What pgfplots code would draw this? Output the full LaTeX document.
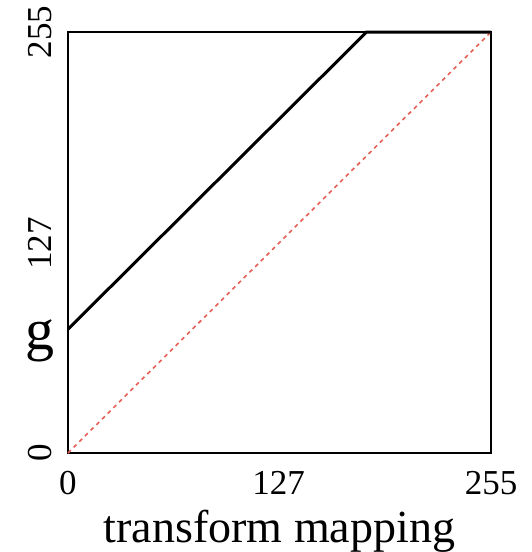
\documentclass[border=0pt]{standalone}
\usepackage{pgfplots}
\pgfplotsset{compat=1.18}
\usepackage{fontspec}
\setmainfont{Liberation Serif}
\definecolor{redline}{RGB}{228,96,84}
\begin{document}
\begin{tikzpicture}
\begin{axis}[
  scale only axis,
  width=423pt, height=421pt,
  xmin=0, xmax=255, ymin=0, ymax=255,
  xtick={0,127,255}, ytick={0,127,255},
  major tick length=0pt,
  axis line style={line width=1.3pt},
  /pgf/number format/assume math mode=true,
  ticklabel style={font=\fontsize{35}{40}\selectfont},
  xticklabel style={anchor=north, inner sep=0pt, yshift=-18pt},
  yticklabel style={rotate=90, anchor=south, inner sep=0pt, yshift=16pt},
  xlabel={transform mapping},
  ylabel={g},
  xlabel style={font=\fontsize{46}{50}\selectfont, at={(rel axis cs:0.5,0)}, anchor=north, inner sep=0pt, yshift=-57pt},
  ylabel style={font=\fontsize{58}{60}\selectfont, rotate=-90, at={(rel axis cs:0,0.245)}, anchor=base east, inner sep=0pt, xshift=-13pt},
  clip=false,
]
\addplot[redline, line width=1.6pt, dash pattern=on 4pt off 4pt] coordinates {(0,0) (255,255)};
\addplot[black, line width=3pt] coordinates {(0,75) (180,255) (255,255)};
\end{axis}
\pgfresetboundingbox
\path (current axis.south west) ++(-68pt,-99pt) rectangle ++(531pt,552pt);
\end{tikzpicture}
\end{document}
